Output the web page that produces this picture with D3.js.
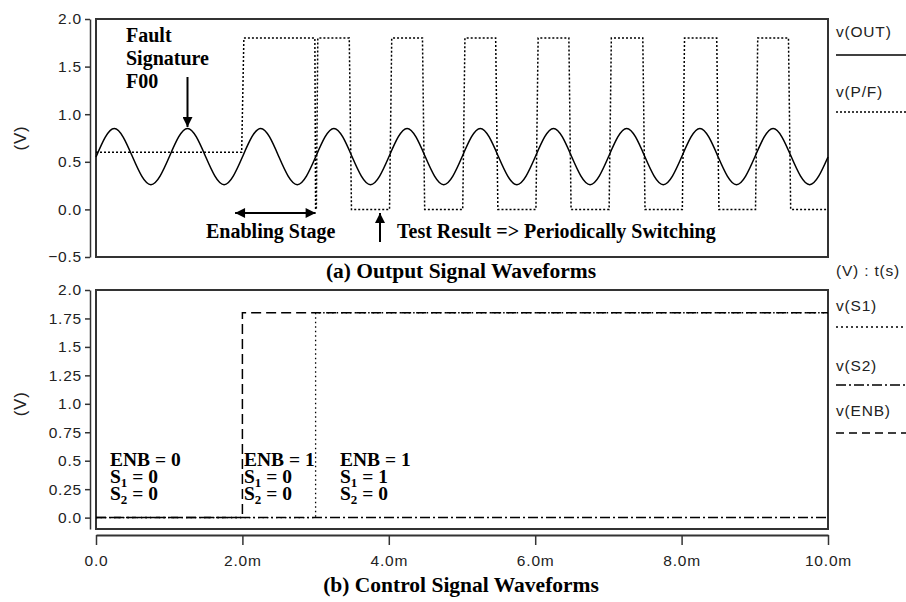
<!DOCTYPE html>
<html>
<head>
<meta charset="utf-8">
<script src="https://cdn.jsdelivr.net/npm/d3@7"></script>
<style>
  body { margin: 0; background: #fff; }
  .tick-label { font-family: "Liberation Sans", Arial, sans-serif; font-size: 15.5px; letter-spacing: 0.8px; fill: #222; }
  .note { font-family: "Liberation Serif", "Times New Roman", serif; font-weight: bold; font-size: 20px; fill: #000; }
  .caption { font-family: "Liberation Serif", "Times New Roman", serif; font-weight: bold; font-size: 21.5px; fill: #000; }
</style>
</head>
<body>
<svg id="chart" width="906" height="602"></svg>
<script>
// v(OUT): samples read at every quarter millisecond (ms, V)
const outTimes = [0, 0.25, 0.5, 0.75, 1, 1.25, 1.5, 1.75, 2, 2.25, 2.5, 2.75, 3, 3.25, 3.5, 3.75,
  4, 4.25, 4.5, 4.75, 5, 5.25, 5.5, 5.75, 6, 6.25, 6.5, 6.75, 7, 7.25, 7.5, 7.75,
  8, 8.25, 8.5, 8.75, 9, 9.25, 9.5, 9.75, 10];
const outValues = [0.55, 0.85, 0.55, 0.26, 0.55, 0.85, 0.55, 0.26, 0.55, 0.85, 0.55, 0.26, 0.55, 0.85, 0.55, 0.26,
  0.55, 0.85, 0.55, 0.26, 0.55, 0.85, 0.55, 0.26, 0.55, 0.85, 0.55, 0.26, 0.55, 0.85, 0.55, 0.26,
  0.55, 0.85, 0.55, 0.26, 0.55, 0.85, 0.55, 0.26, 0.55];

// v(P/F): corner points [ms, V]
const pfPoints = [
  [0, 0.6], [1.99, 0.6], [2.02, 1.8], [2.99, 1.8], [3.0, 0], [3.01, 0], [3.03, 1.8],
  [3.46, 1.8], [3.49, 0], [4.01, 0], [4.04, 1.8], [4.46, 1.8], [4.49, 0], [5.01, 0], [5.04, 1.8],
  [5.46, 1.8], [5.49, 0], [6.01, 0], [6.04, 1.8], [6.46, 1.8], [6.49, 0], [7.01, 0], [7.04, 1.8],
  [7.47, 1.8], [7.5, 0], [8.01, 0], [8.04, 1.8], [8.48, 1.8], [8.51, 0], [9.01, 0], [9.04, 1.8],
  [9.46, 1.8], [9.49, 0], [10, 0]
];

// control signals [ms, V]
const s1Points = [[0, 0], [3, 0], [3, 1.8], [10, 1.8]];
const s2Points = [[0, 0], [10, 0]];
const enbPoints = [[0, 0], [2, 0], [2, 1.8], [10, 1.8]];

const timeTicks = [0, 2, 4, 6, 8, 10];
const topTicks = [-0.5, 0, 0.5, 1.0, 1.5, 2.0];
const bottomTicks = [0, 0.25, 0.5, 0.75, 1.0, 1.25, 1.5, 1.75, 2.0];

const svg = d3.select("#chart");

const x = d3.scaleLinear().domain([0, 10]).range([96, 828]);
const yTop = d3.scaleLinear().domain([-0.5, 2.0]).range([257, 19]);
const yBot = d3.scaleLinear().domain([-0.1, 2.0]).range([529, 290]);

const frameColor = "#333";

// y axes (drawn as separate lines left of the plot frames)
function yAxis(scale, ticks, fmt) {
  const g = svg.append("g").attr("transform", "translate(90,0)");
  g.call(d3.axisLeft(scale).tickValues(ticks).tickFormat(fmt).tickSize(5).tickSizeOuter(0));
  g.select(".domain").attr("stroke", frameColor).attr("stroke-width", 1.5);
  g.selectAll(".tick line").attr("stroke", frameColor).attr("stroke-width", 1.5);
  g.selectAll(".tick text").attr("class", "tick-label").attr("x", -8);
  return g;
}
yAxis(yTop, topTicks, d3.format(".1f"));
yAxis(yBot, bottomTicks, (d) => (d % 0.5 === 0 ? d.toFixed(1) : String(d)));

// x axis under the bottom plot
const xg = svg.append("g").attr("transform", "translate(0,535)");
xg.call(d3.axisBottom(x).tickValues(timeTicks)
  .tickFormat((d) => (d === 0 ? "0.0" : d.toFixed(1) + "m")).tickSize(10).tickSizeOuter(0));
xg.select(".domain").attr("stroke", frameColor).attr("stroke-width", 2);
xg.selectAll(".tick line").attr("stroke", frameColor).attr("stroke-width", 1.5);
xg.selectAll(".tick text").attr("class", "tick-label").attr("y", 20);

// plot frames
[[yTop, -0.5, 2.0], [yBot, -0.1, 2.0]].forEach(([y, lo, hi]) => {
  svg.append("rect")
    .attr("x", x(0)).attr("y", y(hi))
    .attr("width", x(10) - x(0)).attr("height", y(lo) - y(hi))
    .attr("fill", "none").attr("stroke", frameColor).attr("stroke-width", 2);
});

// axis titles
[[yTop, 0.75], [yBot, 1.0]].forEach(([y, v]) => {
  svg.append("text").attr("class", "tick-label")
    .attr("transform", `translate(26,${y(v)}) rotate(-90)`)
    .attr("text-anchor", "middle").style("font-size", "17px").text("(V)");
});

// waveforms
const lineTop = d3.line().x((d) => x(d[0])).y((d) => yTop(d[1]));
const lineBot = d3.line().x((d) => x(d[0])).y((d) => yBot(d[1]));

svg.append("path")
  .datum(pfPoints)
  .attr("d", lineTop)
  .attr("fill", "none").attr("stroke", "#000").attr("stroke-width", 1.5)
  .attr("stroke-dasharray", "2,2");

svg.append("path")
  .datum(d3.zip(outTimes, outValues))
  .attr("d", lineTop.curve(d3.curveNatural))
  .attr("fill", "none").attr("stroke", "#000").attr("stroke-width", 1.5);

svg.append("path").datum(s1Points).attr("d", lineBot)
  .attr("fill", "none").attr("stroke", "#000").attr("stroke-width", 1.3)
  .attr("stroke-dasharray", "1.5,3");
svg.append("path").datum(s2Points).attr("d", lineBot)
  .attr("fill", "none").attr("stroke", "#000").attr("stroke-width", 1.5)
  .attr("stroke-dasharray", "10,3,2,3");
svg.append("path").datum(enbPoints).attr("d", lineBot)
  .attr("fill", "none").attr("stroke", "#000").attr("stroke-width", 1.5)
  .attr("stroke-dasharray", "10,5");

// legends
const legend = [
  { label: "v(OUT)", ty: 37, ly: 55, dash: null },
  { label: "v(P/F)", ty: 97, ly: 112, dash: "2,2" },
  { label: "v(S1)", ty: 311, ly: 327, dash: "2,3" },
  { label: "v(S2)", ty: 371, ly: 385, dash: "10,3,2,3" },
  { label: "v(ENB)", ty: 416, ly: 433, dash: "8,5" }
];
legend.forEach((d) => {
  svg.append("text").attr("class", "tick-label").attr("x", 836).attr("y", d.ty).text(d.label);
  svg.append("line").attr("x1", 836).attr("x2", 906).attr("y1", d.ly).attr("y2", d.ly)
    .attr("stroke", "#000").attr("stroke-width", 1.3)
    .attr("stroke-dasharray", d.dash);
});
svg.append("text").attr("class", "tick-label").attr("x", 836).attr("y", 276).text("(V) : t(s)");

// captions
svg.append("text").attr("class", "caption").attr("x", 461).attr("y", 278)
  .attr("text-anchor", "middle").text("(a) Output Signal Waveforms");
svg.append("text").attr("class", "caption").attr("x", 461).attr("y", 592)
  .attr("text-anchor", "middle").text("(b) Control Signal Waveforms");

// annotations
svg.append("defs").append("marker")
  .attr("id", "head").attr("viewBox", "0 0 10 10").attr("refX", 10).attr("refY", 5)
  .attr("markerWidth", 12).attr("markerHeight", 10).attr("markerUnits", "userSpaceOnUse")
  .attr("orient", "auto-start-reverse")
  .append("path").attr("d", "M0,0L10,5L0,10Z").attr("fill", "#000");

function arrow(x1, y1, x2, y2, both) {
  svg.append("line").attr("x1", x1).attr("y1", y1).attr("x2", x2).attr("y2", y2)
    .attr("stroke", "#000").attr("stroke-width", 2)
    .attr("marker-end", "url(#head)")
    .attr("marker-start", both ? "url(#head)" : null);
}

["Fault", "Signature", "F00"].forEach((t, i) => {
  svg.append("text").attr("class", "note").attr("x", 126).attr("y", 42 + i * 23).text(t);
});
arrow(x(1.25), 77, x(1.25), 127);
svg.append("text").attr("class", "note").attr("x", 206).attr("y", 238).text("Enabling Stage");
arrow(x(1.9), 213, x(3.0), 213, true);
svg.append("text").attr("class", "note").attr("x", 397).attr("y", 238)
  .text("Test Result => Periodically Switching");
arrow(x(3.88), 242, x(3.88), 213);

const states = [
  { x: 110, enb: 0, s1: 0, s2: 0 },
  { x: 244, enb: 1, s1: 0, s2: 0 },
  { x: 340, enb: 1, s1: 1, s2: 0 }
];
states.forEach((d) => {
  const t = svg.append("text").attr("class", "note").style("font-size", "19.5px");
  t.append("tspan").attr("x", d.x).attr("y", 466).text(`ENB = ${d.enb}`);
  [["1", d.s1], ["2", d.s2]].forEach(([k, v], i) => {
    const line = t.append("tspan").attr("x", d.x).attr("y", 483 + i * 17);
    line.append("tspan").text("S");
    line.append("tspan").attr("font-size", 13).attr("dy", 4).text(k);
    line.append("tspan").attr("dy", -4).text(` = ${v}`);
  });
});
</script>
</body>
</html>
